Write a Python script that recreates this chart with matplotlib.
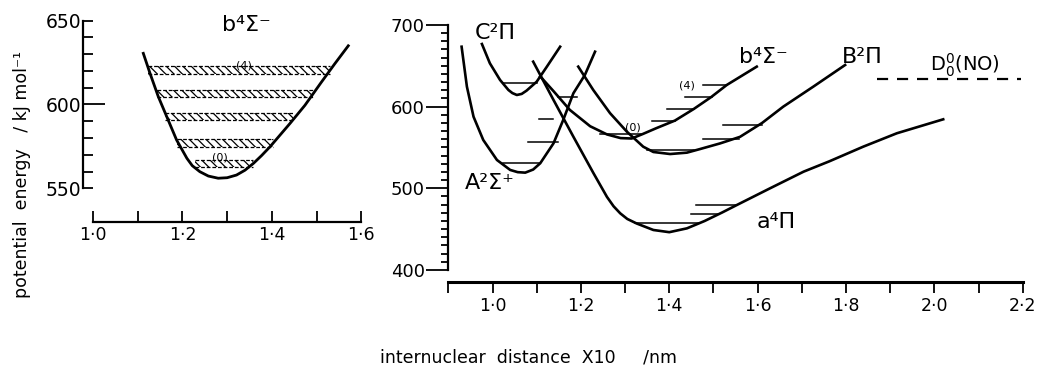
import numpy as np
import matplotlib
matplotlib.use("Agg")
import matplotlib.pyplot as plt

plt.rcParams['font.family'] = ['DejaVu Sans']
plt.rcParams['hatch.linewidth'] = 0.9

# ---- left panel: b4Sigma- well with hatched vibrational bands
b4_left_r = [1.1125, 1.1275, 1.146, 1.165, 1.187, 1.210, 1.222, 1.239, 1.258, 1.280,
             1.300, 1.321, 1.340, 1.359, 1.377, 1.396, 1.441, 1.474, 1.510, 1.540, 1.571]
b4_left_e = [630.5, 618.6, 604.7, 592.7, 578.8, 567.9, 563.5, 559.9, 557.3, 556.0,
             556.3, 557.9, 560.8, 564.9, 569.5, 574.8, 588.8, 599.5, 613.0, 624.0, 635.0]
band_e = [564.9, 577.0, 592.7, 606.7, 620.6]
band_r0 = [1.228, 1.188, 1.161, 1.143, 1.123]
band_r1 = [1.358, 1.403, 1.447, 1.492, 1.530]

# ---- right panel: potential curves of NO
A2S_r = [0.930, 0.942, 0.957, 0.979, 1.010, 1.040, 1.057, 1.074, 1.092, 1.108, 1.138,
         1.160, 1.183, 1.209, 1.232]
A2S_e = [673.4, 624.5, 587.7, 559.2, 534.7, 522.5, 519.8, 519.2, 523.0, 530.7, 555.1,
         583.7, 616.4, 638.8, 667.3]

C2P_r = [0.976, 0.994, 1.017, 1.036, 1.045, 1.055, 1.066, 1.077, 1.100, 1.123, 1.153]
C2P_e = [676.7, 653.1, 632.7, 620.4, 616.6, 614.3, 615.6, 619.6, 630.6, 649.0, 673.4]

a4P_r = [1.092, 1.138, 1.183, 1.228, 1.259, 1.274, 1.289, 1.305, 1.326, 1.364, 1.400,
         1.440, 1.480, 1.520, 1.553, 1.628, 1.704, 1.762, 1.839, 1.915, 2.020]
a4P_e = [655.1, 608.2, 563.2, 519.0, 489.5, 478.0, 469.4, 462.5, 457.0, 449.0, 446.3,
         451.0, 460.0, 470.5, 479.6, 500.0, 520.4, 533.0, 551.0, 567.4, 584.5]

b4S_r = [1.108, 1.138, 1.175, 1.221, 1.259, 1.290, 1.315, 1.340, 1.370, 1.413,
         1.455, 1.495, 1.530, 1.598]
b4S_e = [637.0, 619.0, 596.0, 576.0, 566.0, 561.5, 561.0, 566.5, 573.5, 583.0,
         597.0, 611.8, 626.5, 649.0]

B2P_r = [1.194, 1.228, 1.266, 1.304, 1.341, 1.364, 1.402, 1.440, 1.469, 1.515,
         1.560, 1.610, 1.658, 1.726, 1.798]
B2P_e = [649.0, 620.4, 592.0, 569.4, 551.0, 544.5, 542.0, 543.7, 548.0, 555.0,
         563.0, 580.0, 600.0, 624.5, 651.0]

level_e = [629.4, 612.2, 584.5, 557.1, 531.4,
           566.0, 582.8, 596.8, 611.5, 626.5,
           547.0, 561.0, 578.0,
           458.0, 468.0, 479.0]
level_r0 = [1.024, 1.148, 1.105, 1.080, 1.024,
            1.243, 1.360, 1.394, 1.436, 1.477,
            1.350, 1.477, 1.522,
            1.323, 1.450, 1.460]
level_r1 = [1.101, 1.191, 1.137, 1.148, 1.108,
            1.335, 1.413, 1.455, 1.496, 1.530,
            1.455, 1.557, 1.610,
            1.470, 1.513, 1.553]

D0_e = 633.5
D0_r = [1.870, 2.195]


def dot_labels(vals):
    return [f"{v:.1f}".replace('.', '\u00b7') for v in vals]


fig = plt.figure(figsize=(10.4, 3.87), dpi=100)

# ---------------- left panel
ax1 = fig.add_axes([0.0798, 0.4264, 0.2697, 0.5289])
ax1.set_xlim(0.9776, 1.605)
ax1.set_ylim(529.9, 652)
for s in ['top', 'right']:
    ax1.spines[s].set_visible(False)
ax1.spines['left'].set_bounds(550, 650)
ax1.spines['bottom'].set_bounds(1.0, 1.6)
ax1.spines['left'].set_linewidth(1.6)
ax1.spines['bottom'].set_linewidth(1.6)

ax1.plot(b4_left_r, b4_left_e, color='k', lw=2.0)
for e, r0, r1 in zip(band_e, band_r0, band_r1):
    ax1.fill_between([r0, r1], e - 2.2, e + 2.2, facecolor='none',
                     edgecolor='k', hatch='\\\\\\\\', lw=0)
    ax1.plot([r0, r1], [e + 2.2, e + 2.2], color='k', lw=0.9, ls=(0, (3, 1.5)))
    ax1.plot([r0, r1], [e - 2.2, e - 2.2], color='k', lw=0.9, ls=(0, (3, 1.5)))

ax1.text(1.344, 647.4, 'b\u2074\u03a3\u207b', fontsize=16, ha='center', va='center')
ax1.text(1.338, 623, '(4)', fontsize=8, ha='center', va='center')
ax1.text(1.283, 568.5, '(0)', fontsize=8, ha='center', va='center')

ax1.set_yticks([550, 600, 650])
ax1.set_yticklabels(['550', '600', '650'], fontsize=13.5)
ax1.set_yticks(np.arange(550, 651, 10), minor=True)
ax1.tick_params(axis='y', which='both', direction='in', length=7, width=1.3, pad=1)
ax1.yaxis.get_major_ticks()[1].tick1line.set_markersize(16)

ax1.set_xticks([1.0, 1.2, 1.4, 1.6])
ax1.set_xticklabels(dot_labels([1.0, 1.2, 1.4, 1.6]), fontsize=12.5)
ax1.set_xticks([1.1, 1.3, 1.5], minor=True)
ax1.tick_params(axis='x', which='both', direction='in', length=8, width=1.3, pad=3)

# ---------------- right panel
ax2 = fig.add_axes([0.4311, 0.2713, 0.5523, 0.6747])
ax2.set_xlim(0.9, 2.2)
ax2.set_ylim(385.3, 705)
for s in ['top', 'right']:
    ax2.spines[s].set_visible(False)
ax2.spines['left'].set_bounds(400, 700)
ax2.spines['left'].set_linewidth(1.6)
ax2.spines['bottom'].set_linewidth(2.2)

for r, e in [(A2S_r, A2S_e), (C2P_r, C2P_e), (a4P_r, a4P_e),
             (b4S_r, b4S_e), (B2P_r, B2P_e)]:
    ax2.plot(r, e, color='k', lw=1.9)
for e, r0, r1 in zip(level_e, level_r0, level_r1):
    ax2.plot([r0, r1], [e, e], color='k', lw=1.1)

ax2.plot(D0_r, [D0_e, D0_e], color='k', lw=1.6, ls=(0, (5, 4)), clip_on=False)
ax2.text(2.069, D0_e + 0.5, r'$\mathrm{D}_0^0$(NO)', fontsize=14, ha='center', va='bottom')

ax2.text(1.006, 690, 'C\u00b2\u03a0', fontsize=16, ha='center', va='center')
ax2.text(0.994, 506, 'A\u00b2\u03a3\u207a', fontsize=16, ha='center', va='center')
ax2.text(1.613, 661, 'b\u2074\u03a3\u207b', fontsize=16, ha='center', va='center')
ax2.text(1.836, 661, 'B\u00b2\u03a0', fontsize=16, ha='center', va='center')
ax2.text(1.643, 459, 'a\u2074\u03a0', fontsize=16, ha='center', va='center')
ax2.text(1.440, 626.5, '(4)', fontsize=8, ha='center', va='center')
ax2.text(1.318, 574.5, '(0)', fontsize=8, ha='center', va='center')

ax2.set_yticks([400, 500, 600, 700])
ax2.set_yticklabels(['400', '500', '600', '700'], fontsize=13)
ax2.set_yticks(np.arange(400, 701, 10), minor=True)
ax2.tick_params(axis='y', which='major', direction='out', length=16, width=1.3, pad=1)
ax2.tick_params(axis='y', which='minor', direction='out', length=5, width=1.3)

xt = [1.0, 1.2, 1.4, 1.6, 1.8, 2.0, 2.2]
ax2.set_xticks(xt)
ax2.set_xticklabels(dot_labels(xt), fontsize=12.5)
ax2.set_xticks([0.9, 1.1, 1.3, 1.5, 1.7, 1.9, 2.1], minor=True)
ax2.tick_params(axis='x', which='both', direction='out', length=8, width=1.3, pad=3)

fig.text(22 / 1040, 0.548, 'potential  energy   / kJ mol\u207b\u00b9', rotation=90,
         fontsize=12.5, ha='center', va='center')
fig.text(529 / 1040, 1 - 358 / 387, 'internuclear  distance  X10     /nm',
         fontsize=12.5, ha='center', va='center')

fig.savefig('out.png', dpi=100)
